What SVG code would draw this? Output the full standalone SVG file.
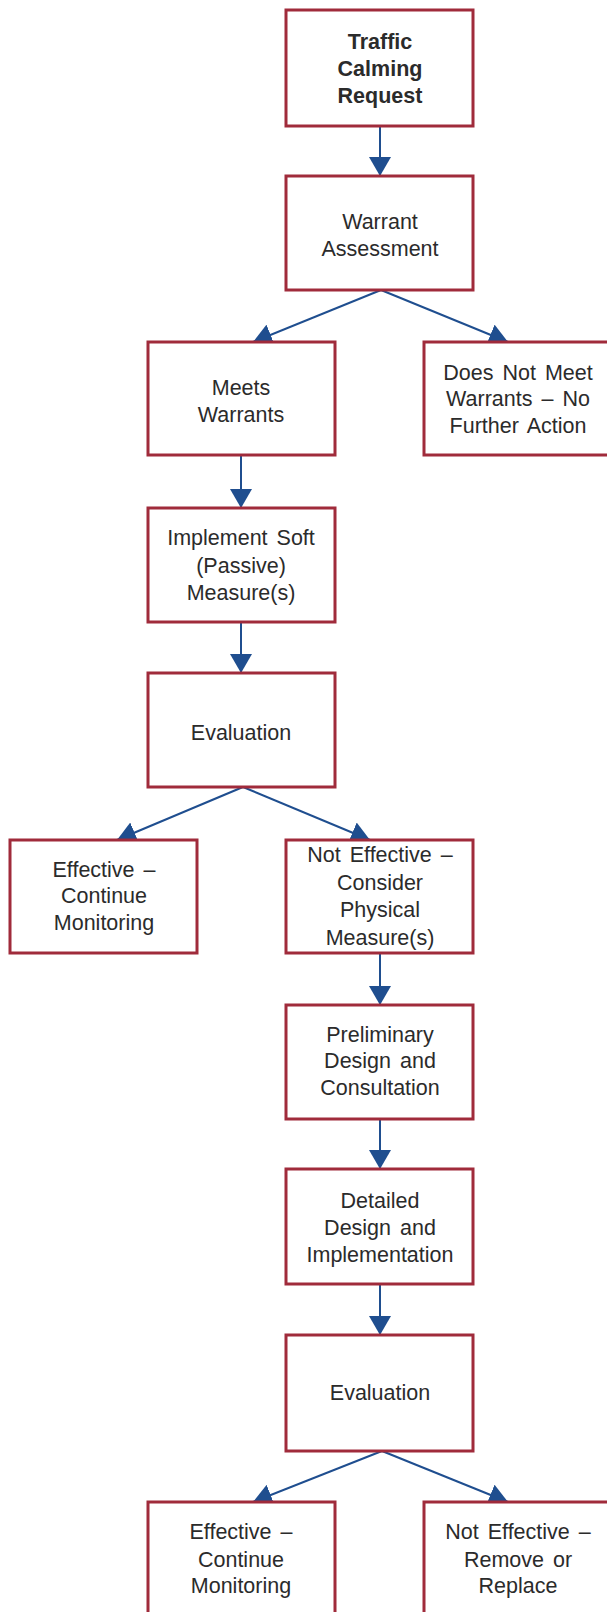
<svg xmlns="http://www.w3.org/2000/svg" width="607" height="1612" viewBox="0 0 607 1612">
<style>
.box{fill:#ffffff;stroke:#A02B3B;stroke-width:3}
.t{font-family:"Liberation Sans",Arial,sans-serif;font-size:21.5px;fill:#2b2b2b;text-anchor:middle;word-spacing:3px}
.b{font-weight:bold}
.c{stroke:#1F4E8F;stroke-width:2;fill:none;marker-end:url(#ah)}
</style>
<defs>
<marker id="ah" viewBox="0 0 19 22" refX="19" refY="11" markerWidth="19" markerHeight="22" markerUnits="userSpaceOnUse" orient="auto">
<path d="M0,0 L19,11 L0,22 z" fill="#1F4E8F"/>
</marker>
</defs>
<rect width="607" height="1612" fill="#ffffff"/>
<g id="connectors">
<line class="c" x1="380" y1="126" x2="380" y2="176"/>
<line class="c" x1="381" y1="290" x2="253" y2="342"/>
<line class="c" x1="381" y1="290" x2="508" y2="342"/>
<line class="c" x1="241" y1="455" x2="241" y2="508"/>
<line class="c" x1="241" y1="622" x2="241" y2="673"/>
<line class="c" x1="243" y1="787" x2="117" y2="840"/>
<line class="c" x1="243" y1="787" x2="370" y2="840"/>
<line class="c" x1="380" y1="953" x2="380" y2="1005"/>
<line class="c" x1="380" y1="1119" x2="380" y2="1169"/>
<line class="c" x1="380" y1="1284" x2="380" y2="1335"/>
<line class="c" x1="382" y1="1451" x2="253" y2="1502"/>
<line class="c" x1="382" y1="1451" x2="508" y2="1502"/>
</g>
<g id="n1"><rect class="box" x="286" y="10" width="187" height="116"/>
<text class="t b" x="380" y="49">Traffic</text><text class="t b" x="380" y="76">Calming</text><text class="t b" x="380" y="103">Request</text></g>
<g id="n2"><rect class="box" x="286" y="176" width="187" height="114"/>
<text class="t" x="380" y="229">Warrant</text><text class="t" x="380" y="256">Assessment</text></g>
<g id="n3"><rect class="box" x="148" y="342" width="187" height="113"/>
<text class="t" x="241" y="395">Meets</text><text class="t" x="241" y="422">Warrants</text></g>
<g id="n4"><rect class="box" x="424" y="342" width="190" height="113"/>
<text class="t" x="518" y="380">Does Not Meet</text><text class="t" x="518" y="406">Warrants – No</text><text class="t" x="518" y="433">Further Action</text></g>
<g id="n5"><rect class="box" x="148" y="508" width="187" height="114"/>
<text class="t" x="241" y="545">Implement Soft</text><text class="t" x="241" y="573">(Passive)</text><text class="t" x="241" y="600">Measure(s)</text></g>
<g id="n6"><rect class="box" x="148" y="673" width="187" height="114"/>
<text class="t" x="241" y="740">Evaluation</text></g>
<g id="n7"><rect class="box" x="10" y="840" width="187" height="113"/>
<text class="t" x="104" y="877">Effective –</text><text class="t" x="104" y="903">Continue</text><text class="t" x="104" y="930">Monitoring</text></g>
<g id="n8"><rect class="box" x="286" y="840" width="187" height="113"/>
<text class="t" x="380" y="862">Not Effective –</text><text class="t" x="380" y="890">Consider</text><text class="t" x="380" y="917">Physical</text><text class="t" x="380" y="945">Measure(s)</text></g>
<g id="n9"><rect class="box" x="286" y="1005" width="187" height="114"/>
<text class="t" x="380" y="1042">Preliminary</text><text class="t" x="380" y="1068">Design and</text><text class="t" x="380" y="1095">Consultation</text></g>
<g id="n10"><rect class="box" x="286" y="1169" width="187" height="115"/>
<text class="t" x="380" y="1208">Detailed</text><text class="t" x="380" y="1235">Design and</text><text class="t" x="380" y="1262">Implementation</text></g>
<g id="n11"><rect class="box" x="286" y="1335" width="187" height="116"/>
<text class="t" x="380" y="1400">Evaluation</text></g>
<g id="n12"><rect class="box" x="148" y="1502" width="187" height="114"/>
<text class="t" x="241" y="1539">Effective –</text><text class="t" x="241" y="1567">Continue</text><text class="t" x="241" y="1593">Monitoring</text></g>
<g id="n13"><rect class="box" x="424" y="1502" width="190" height="114"/>
<text class="t" x="518" y="1539">Not Effective –</text><text class="t" x="518" y="1567">Remove or</text><text class="t" x="518" y="1593">Replace</text></g>
</svg>
